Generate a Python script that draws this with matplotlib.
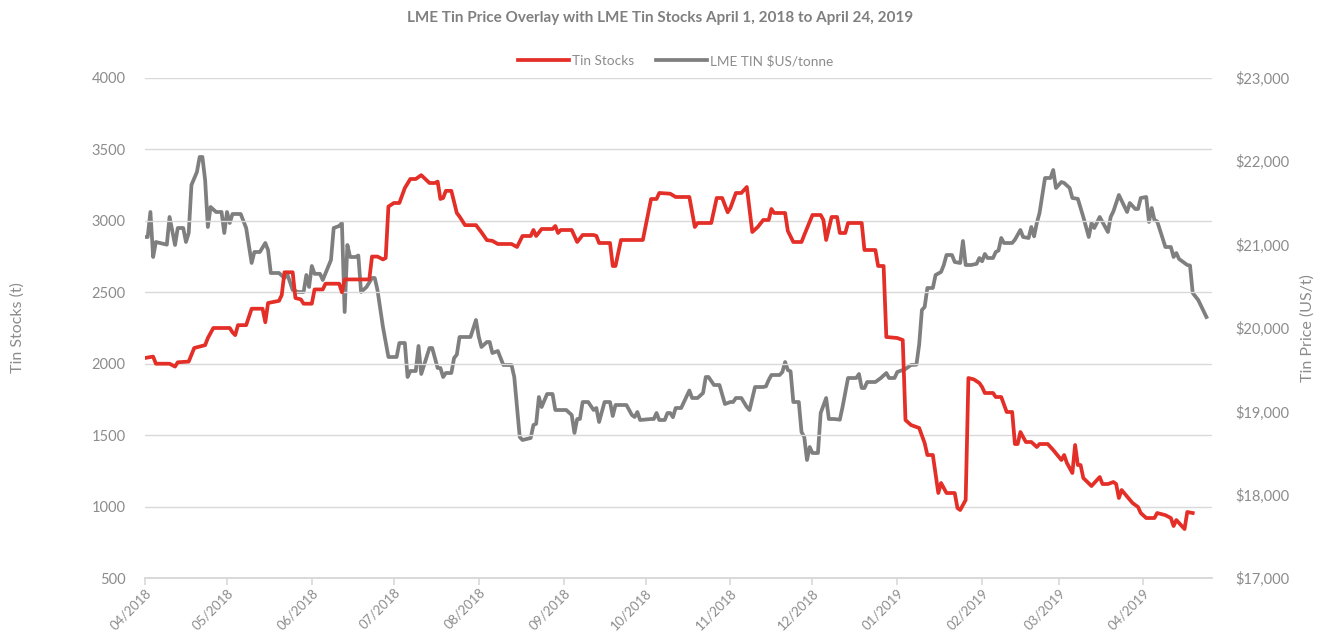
import pandas as pd
import matplotlib
matplotlib.use("Agg")
import matplotlib.pyplot as plt
import matplotlib.dates as mdates
from matplotlib.ticker import FuncFormatter, MultipleLocator

# LME tin warehouse stocks (t)
stock_dates = [
    "2018-04-01", "2018-04-04", "2018-04-05", "2018-04-10", "2018-04-12", "2018-04-13",
    "2018-04-17", "2018-04-19", "2018-04-23", "2018-04-24", "2018-04-26", "2018-05-02",
    "2018-05-03", "2018-05-04", "2018-05-05", "2018-05-08", "2018-05-10", "2018-05-14",
    "2018-05-15", "2018-05-16", "2018-05-20", "2018-05-21", "2018-05-22", "2018-05-25",
    "2018-05-26", "2018-05-28", "2018-05-29", "2018-06-01", "2018-06-02", "2018-06-05",
    "2018-06-06", "2018-06-11", "2018-06-12", "2018-06-13", "2018-06-22", "2018-06-23",
    "2018-06-25", "2018-06-27", "2018-06-28", "2018-06-29", "2018-07-01", "2018-07-03",
    "2018-07-05", "2018-07-07", "2018-07-09", "2018-07-11", "2018-07-14", "2018-07-16",
    "2018-07-17", "2018-07-18", "2018-07-19", "2018-07-20", "2018-07-22", "2018-07-24",
    "2018-07-25", "2018-07-27", "2018-07-31", "2018-08-02", "2018-08-04", "2018-08-06",
    "2018-08-08", "2018-08-13", "2018-08-15", "2018-08-17", "2018-08-20", "2018-08-21",
    "2018-08-22", "2018-08-24", "2018-08-28", "2018-08-29", "2018-08-30", "2018-08-31",
    "2018-09-04", "2018-09-06", "2018-09-08", "2018-09-12", "2018-09-13", "2018-09-14",
    "2018-09-18", "2018-09-19", "2018-09-20", "2018-09-22", "2018-09-30", "2018-10-03",
    "2018-10-05", "2018-10-06", "2018-10-10", "2018-10-12", "2018-10-17", "2018-10-19",
    "2018-10-20", "2018-10-25", "2018-10-27", "2018-10-29", "2018-10-31", "2018-11-01",
    "2018-11-03", "2018-11-05", "2018-11-07", "2018-11-09", "2018-11-11", "2018-11-13",
    "2018-11-15", "2018-11-16", "2018-11-17", "2018-11-21", "2018-11-22", "2018-11-24",
    "2018-11-27", "2018-11-28", "2018-12-01", "2018-12-04", "2018-12-05", "2018-12-06",
    "2018-12-08", "2018-12-10", "2018-12-11", "2018-12-13", "2018-12-14", "2018-12-19",
    "2018-12-20", "2018-12-24", "2018-12-25", "2018-12-27", "2018-12-28", "2019-01-01",
    "2019-01-03", "2019-01-04", "2019-01-06", "2019-01-09", "2019-01-11", "2019-01-12",
    "2019-01-14", "2019-01-16", "2019-01-17", "2019-01-19", "2019-01-22", "2019-01-23",
    "2019-01-24", "2019-01-26", "2019-01-27", "2019-01-29", "2019-01-31", "2019-02-01",
    "2019-02-02", "2019-02-05", "2019-02-06", "2019-02-08", "2019-02-10", "2019-02-12",
    "2019-02-13", "2019-02-14", "2019-02-15", "2019-02-17", "2019-02-19", "2019-02-21",
    "2019-02-22", "2019-02-25", "2019-02-27", "2019-03-02", "2019-03-03", "2019-03-04",
    "2019-03-06", "2019-03-07", "2019-03-08", "2019-03-09", "2019-03-10", "2019-03-13",
    "2019-03-16", "2019-03-17", "2019-03-19", "2019-03-21", "2019-03-22", "2019-03-23",
    "2019-03-24", "2019-03-28", "2019-03-30", "2019-03-31", "2019-04-02", "2019-04-05",
    "2019-04-06", "2019-04-09", "2019-04-11", "2019-04-12", "2019-04-13", "2019-04-16",
    "2019-04-17", "2019-04-19",
]
stock_values = [
    2040, 2050, 2000, 2000, 1980, 2010,
    2015, 2110, 2130, 2180, 2250, 2250,
    2220, 2200, 2270, 2270, 2385, 2385,
    2290, 2425, 2440, 2480, 2640, 2640,
    2460, 2450, 2420, 2420, 2520, 2520,
    2560, 2560, 2500, 2590, 2590, 2750,
    2750, 2730, 2740, 3100, 3125, 3125,
    3230, 3293, 3293, 3320, 3265, 3265,
    3275, 3153, 3160, 3210, 3210, 3055,
    3030, 2970, 2970, 2920, 2865, 2860,
    2838, 2838, 2817, 2894, 2894, 2936,
    2894, 2943, 2943, 2964, 2915, 2936,
    2936, 2852, 2901, 2901, 2895, 2845,
    2845, 2684, 2684, 2866, 2866, 3153,
    3153, 3195, 3190, 3167, 3167, 2957,
    2985, 2985, 3160, 3160, 3060, 3090,
    3195, 3195, 3237, 2922, 2957, 3006,
    3006, 3083, 3055, 3055, 2929, 2852,
    2852, 2901, 3041, 3041, 3006, 2866,
    3027, 3027, 2915, 2915, 2985, 2985,
    2796, 2796, 2684, 2684, 2187, 2180,
    2166, 1606, 1571, 1550, 1445, 1361,
    1361, 1095, 1165, 1095, 1095, 990,
    976, 1046, 1900, 1890, 1865, 1837,
    1795, 1795, 1767, 1767, 1662, 1662,
    1438, 1438, 1522, 1452, 1452, 1417,
    1438, 1438, 1396, 1326, 1361, 1305,
    1235, 1431, 1291, 1291, 1200, 1144,
    1207, 1158, 1158, 1172, 1158, 1060,
    1116, 1025, 997, 955, 920, 920,
    955, 940, 920, 864, 906, 843,
    962, 955,
]

# LME tin cash price (US$/tonne)
price_dates = [
    "2018-04-01", "2018-04-02", "2018-04-03", "2018-04-04", "2018-04-05", "2018-04-09",
    "2018-04-10", "2018-04-12", "2018-04-13", "2018-04-15", "2018-04-16", "2018-04-17",
    "2018-04-18", "2018-04-20", "2018-04-21", "2018-04-22", "2018-04-23", "2018-04-24",
    "2018-04-25", "2018-04-27", "2018-04-29", "2018-04-30", "2018-05-01", "2018-05-02",
    "2018-05-03", "2018-05-06", "2018-05-08", "2018-05-10", "2018-05-11", "2018-05-13",
    "2018-05-15", "2018-05-16", "2018-05-17", "2018-05-20", "2018-05-22", "2018-05-23",
    "2018-05-25", "2018-05-27", "2018-05-29", "2018-05-30", "2018-05-31", "2018-06-01",
    "2018-06-02", "2018-06-04", "2018-06-05", "2018-06-08", "2018-06-09", "2018-06-11",
    "2018-06-12", "2018-06-13", "2018-06-14", "2018-06-15", "2018-06-17", "2018-06-18",
    "2018-06-19", "2018-06-21", "2018-06-23", "2018-06-24", "2018-06-25", "2018-06-27",
    "2018-06-29", "2018-07-02", "2018-07-03", "2018-07-05", "2018-07-06", "2018-07-07",
    "2018-07-09", "2018-07-10", "2018-07-11", "2018-07-14", "2018-07-15", "2018-07-17",
    "2018-07-18", "2018-07-19", "2018-07-20", "2018-07-22", "2018-07-23", "2018-07-24",
    "2018-07-25", "2018-07-29", "2018-07-31", "2018-08-01", "2018-08-02", "2018-08-04",
    "2018-08-05", "2018-08-06", "2018-08-08", "2018-08-10", "2018-08-13", "2018-08-14",
    "2018-08-16", "2018-08-17", "2018-08-20", "2018-08-21", "2018-08-22", "2018-08-23",
    "2018-08-24", "2018-08-26", "2018-08-28", "2018-08-29", "2018-09-02", "2018-09-04",
    "2018-09-05", "2018-09-06", "2018-09-07", "2018-09-08", "2018-09-10", "2018-09-12",
    "2018-09-13", "2018-09-14", "2018-09-16", "2018-09-18", "2018-09-19", "2018-09-20",
    "2018-09-24", "2018-09-26", "2018-09-27", "2018-09-28", "2018-09-29", "2018-10-03",
    "2018-10-04", "2018-10-05", "2018-10-06", "2018-10-08", "2018-10-09", "2018-10-10",
    "2018-10-11", "2018-10-12", "2018-10-14", "2018-10-17", "2018-10-18", "2018-10-20",
    "2018-10-22", "2018-10-23", "2018-10-24", "2018-10-26", "2018-10-28", "2018-10-30",
    "2018-11-01", "2018-11-02", "2018-11-03", "2018-11-05", "2018-11-07", "2018-11-08",
    "2018-11-10", "2018-11-13", "2018-11-14", "2018-11-15", "2018-11-16", "2018-11-19",
    "2018-11-20", "2018-11-21", "2018-11-22", "2018-11-23", "2018-11-24", "2018-11-26",
    "2018-11-27", "2018-11-28", "2018-11-29", "2018-11-30", "2018-12-01", "2018-12-03",
    "2018-12-04", "2018-12-06", "2018-12-07", "2018-12-09", "2018-12-11", "2018-12-12",
    "2018-12-14", "2018-12-17", "2018-12-18", "2018-12-19", "2018-12-20", "2018-12-21",
    "2018-12-24", "2018-12-26", "2018-12-28", "2018-12-29", "2018-12-31", "2019-01-01",
    "2019-01-04", "2019-01-06", "2019-01-08", "2019-01-09", "2019-01-10", "2019-01-11",
    "2019-01-12", "2019-01-14", "2019-01-15", "2019-01-17", "2019-01-18", "2019-01-19",
    "2019-01-21", "2019-01-22", "2019-01-24", "2019-01-25", "2019-01-26", "2019-01-28",
    "2019-01-30", "2019-01-31", "2019-02-01", "2019-02-02", "2019-02-03", "2019-02-05",
    "2019-02-06", "2019-02-07", "2019-02-08", "2019-02-09", "2019-02-12", "2019-02-13",
    "2019-02-15", "2019-02-16", "2019-02-18", "2019-02-19", "2019-02-20", "2019-02-21",
    "2019-02-22", "2019-02-24", "2019-02-26", "2019-02-27", "2019-02-28", "2019-03-02",
    "2019-03-03", "2019-03-05", "2019-03-06", "2019-03-08", "2019-03-10", "2019-03-12",
    "2019-03-13", "2019-03-14", "2019-03-16", "2019-03-19", "2019-03-20", "2019-03-21",
    "2019-03-23", "2019-03-26", "2019-03-27", "2019-03-29", "2019-03-30", "2019-03-31",
    "2019-04-02", "2019-04-03", "2019-04-04", "2019-04-05", "2019-04-06", "2019-04-09",
    "2019-04-11", "2019-04-12", "2019-04-13", "2019-04-14", "2019-04-17", "2019-04-18",
    "2019-04-19", "2019-04-21", "2019-04-24",
]
price_values = [
    21092, 21092, 21392, 20852, 21032, 21000,
    21332, 20996, 21200, 21200, 21032, 21140,
    21716, 21872, 22052, 22052, 21776, 21212,
    21452, 21392, 21392, 21140, 21392, 21260,
    21368, 21368, 21200, 20780, 20912, 20912,
    21020, 20936, 20660, 20660, 20600, 20650,
    20456, 20432, 20432, 20636, 20492, 20744,
    20650, 20650, 20576, 20816, 21200, 21224,
    21260, 20192, 20996, 20852, 20852, 20870,
    20432, 20492, 20600, 20600, 20456, 20012,
    19652, 19652, 19820, 19820, 19412, 19484,
    19484, 19784, 19448, 19760, 19760, 19520,
    19520, 19412, 19460, 19460, 19640, 19680,
    19892, 19892, 20096, 19900, 19772, 19832,
    19832, 19700, 19724, 19556, 19556, 19412,
    18692, 18656, 18680, 18836, 18850, 19172,
    19052, 19208, 19208, 19016, 19016, 18956,
    18740, 18908, 18908, 19112, 19112, 19016,
    19040, 18872, 19112, 19112, 18944, 19076,
    19076, 18956, 18932, 18992, 18896, 18908,
    18908, 18980, 18896, 18896, 18980, 18980,
    18930, 19040, 19040, 19250, 19160, 19160,
    19220, 19412, 19412, 19316, 19316, 19088,
    19112, 19112, 19160, 19160, 19052, 19016,
    19292, 19292, 19300, 19376, 19436, 19436,
    19472, 19592, 19496, 19480, 19112, 19112,
    18752, 18692, 18416, 18572, 18500, 18500,
    18980, 19160, 18908, 18908, 18900, 19052,
    19400, 19400, 19448, 19280, 19280, 19352,
    19352, 19400, 19460, 19400, 19400, 19472,
    19508, 19556, 19560, 19800, 20216, 20252,
    20480, 20480, 20636, 20672, 20756, 20876,
    20876, 20792, 20780, 21044, 20756, 20756,
    20770, 20840, 20800, 20888, 20840, 20840,
    20912, 20930, 21080, 21020, 21020, 21060,
    21176, 21092, 21080, 21212, 21100, 21260,
    21380, 21800, 21800, 21896, 21680, 21752,
    21740, 21680, 21560, 21550, 21332, 21092,
    21260, 21200, 21332, 21152, 21332, 21400,
    21596, 21392, 21500, 21428, 21428, 21560,
    21572, 21272, 21440, 21296, 21280, 20972,
    20972, 20852, 20900, 20828, 20756, 20750,
    20420, 20336, 20132,
]

RED = "#e32f27"
GREY = "#7f7f7f"
TEXT = "#8c8c8c"
GRID = "#d9d9d9"

plt.rcParams["font.family"] = ["Lato", "DejaVu Sans"]

fig = plt.figure(figsize=(13.2, 6.34), dpi=100)
ax = fig.add_axes([0.1098, 0.0883, 0.8083, 0.7887])
ax2 = ax.twinx()

s_dates = pd.to_datetime(stock_dates)
p_dates = pd.to_datetime(price_dates)

ln_price, = ax2.plot(p_dates, price_values, color=GREY, lw=2.7,
                     solid_joinstyle="round", label="LME TIN $US/tonne")
ln_stock, = ax.plot(s_dates, stock_values, color=RED, lw=2.7,
                    solid_joinstyle="round", label="Tin Stocks")

# stocks drawn over price
ax.set_zorder(ax2.get_zorder() + 1)
ax.patch.set_visible(False)

start = pd.Timestamp("2018-04-01")
ax.set_xlim(start, start + pd.Timedelta(days=390))
ax.set_ylim(500, 4000)
ax2.set_ylim(17000, 23000)
ax.yaxis.set_major_locator(MultipleLocator(500))
ax2.yaxis.set_major_locator(MultipleLocator(1000))
ax2.yaxis.set_major_formatter(FuncFormatter(lambda v, p: f"${v:,.0f}"))

ax.xaxis.set_major_locator(mdates.MonthLocator())
ax.xaxis.set_major_formatter(mdates.DateFormatter("%m/%Y"))

ax.grid(axis="y", color=GRID, lw=1.0)
ax.set_axisbelow(True)

for a in (ax, ax2):
    for side in ("left", "right", "top"):
        a.spines[side].set_visible(False)
    a.spines["bottom"].set_color(GRID)
    a.spines["bottom"].set_linewidth(1.2)

ax.tick_params(axis="y", length=0, pad=14, labelsize=10.5, labelcolor=TEXT)
ax2.tick_params(axis="y", length=0, pad=17, labelsize=10.5, labelcolor=TEXT)
ax.tick_params(axis="x", length=5, color=GRID, width=1.2, labelsize=9.5,
               labelcolor=TEXT, pad=1)
for lbl in ax.get_xticklabels():
    lbl.set_rotation(45)
    lbl.set_ha("right")
    lbl.set_rotation_mode("anchor")

ax.set_ylabel("Tin Stocks (t)", color=TEXT, fontsize=11.5, labelpad=48)
ax2.set_ylabel("Tin Price (US/t)", color=TEXT, fontsize=11.5, labelpad=8,
               rotation=90)

fig.text(0.5, 0.971, "LME Tin Price Overlay with LME Tin Stocks April 1, 2018 to April 24, 2019",
         ha="center", va="center", fontsize=11, fontweight="bold", color=GREY)

fig.legend(handles=[ln_stock, ln_price], loc="center", bbox_to_anchor=(0.512, 0.904),
           ncol=2, frameon=False, fontsize=9.8, labelcolor=TEXT,
           handlelength=3.7, handletextpad=0.25, columnspacing=1.6)

fig.savefig("out.png", dpi=100)
